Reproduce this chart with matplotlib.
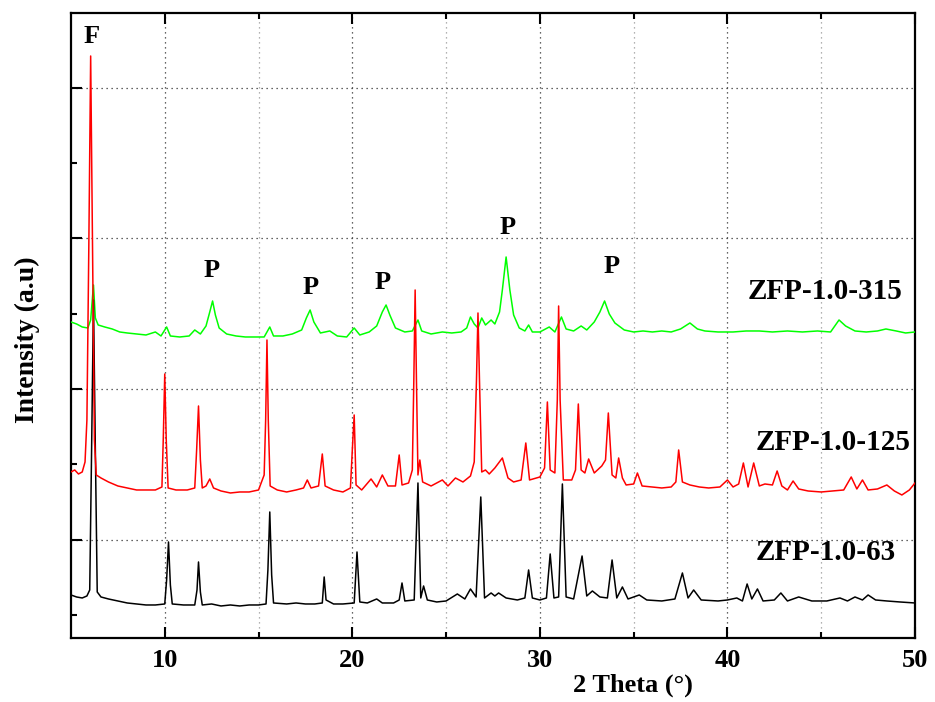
import matplotlib
matplotlib.use("Agg")
import matplotlib.pyplot as plt
from matplotlib.ticker import FixedLocator, NullFormatter

plt.rcParams['font.family'] = ['Liberation Serif', 'DejaVu Serif']
plt.rcParams['font.weight'] = 'bold'

# ZFP-1.0-63 (black)
theta_63 = [5.0, 5.3, 5.6, 5.85, 6.0, 6.1, 6.2, 6.3, 6.4, 6.6, 7.0, 7.5, 8.0, 8.5, 9.0, 9.5,
            10.0, 10.1, 10.2, 10.3, 10.4, 11.0, 11.6, 11.72, 11.8, 11.9, 12.0, 12.5, 13.0, 13.5,
            14.0, 14.5, 15.0, 15.4, 15.5, 15.6, 15.7, 15.8, 16.5, 17.0, 17.5, 18.0, 18.4, 18.5,
            18.6, 19.0, 19.5, 20.1, 20.25, 20.4, 20.8, 21.3, 21.6, 22.2, 22.5, 22.65, 22.8, 23.3,
            23.5, 23.65, 23.8, 24.0, 24.5, 25.0, 25.6, 26.0, 26.3, 26.6, 26.85, 27.05, 27.4, 27.6,
            27.8, 28.2, 28.8, 29.2, 29.4, 29.6, 30.0, 30.35, 30.55, 30.75, 31.0, 31.2, 31.4, 31.8,
            32.25, 32.5, 32.8, 33.2, 33.6, 33.85, 34.1, 34.4, 34.7, 35.3, 35.7, 36.5, 37.2, 37.6,
            37.9, 38.2, 38.6, 39.5, 40.0, 40.5, 40.8, 41.05, 41.3, 41.6, 41.9, 42.5, 42.85, 43.2,
            43.8, 44.5, 45.3, 46.0, 46.4, 46.8, 47.2, 47.5, 47.9, 48.5, 49.2, 50.0]
int_63 = [43, 41, 40, 42, 48, 188, 338, 188, 46, 41, 39, 37, 35, 34, 33, 33,
          34, 58, 96, 53, 34, 33, 33, 48, 76, 46, 33, 34, 32, 33,
          32, 33, 33, 34, 68, 126, 63, 35, 34, 35, 34, 34, 35, 61,
          38, 34, 34, 35, 86, 36, 35, 39, 35, 35, 38, 55, 37, 38,
          155, 40, 52, 38, 36, 37, 44, 39, 49, 41, 141, 40, 45, 42,
          45, 40, 38, 40, 68, 40, 38, 40, 84, 40, 41, 154, 41, 39,
          82, 42, 47, 41, 40, 78, 40, 51, 39, 43, 38, 37, 39, 65,
          40, 48, 38, 37, 38, 40, 37, 54, 39, 49, 37, 38, 45, 37,
          41, 37, 37, 40, 37, 41, 38, 43, 38, 37, 36, 35]

# ZFP-1.0-125 (red)
theta_125 = [5.0, 5.2, 5.4, 5.6, 5.75, 5.85, 5.95, 6.05, 6.15, 6.25, 6.35, 6.6, 7.0, 7.5, 8.0, 8.5,
             9.0, 9.5, 9.85, 9.92, 10.0, 10.08, 10.18, 10.6, 11.2, 11.6, 11.7, 11.8, 11.9, 12.0,
             12.2, 12.4, 12.6, 13.0, 13.5, 14.0, 14.5, 15.0, 15.3, 15.38, 15.45, 15.52, 15.62, 16.0,
             16.5, 17.0, 17.4, 17.6, 17.8, 18.2, 18.4, 18.55, 19.0, 19.5, 19.9, 20.0, 20.1, 20.2,
             20.5, 21.0, 21.3, 21.6, 21.9, 22.3, 22.5, 22.65, 23.0, 23.2, 23.28, 23.35, 23.42, 23.5,
             23.6, 23.75, 24.2, 24.8, 25.1, 25.5, 25.9, 26.3, 26.5, 26.62, 26.7, 26.78, 26.9, 27.1,
             27.3, 27.6, 28.0, 28.3, 28.6, 29.0, 29.25, 29.45, 30.0, 30.25, 30.4, 30.55, 30.8, 30.93,
             31.0, 31.08, 31.25, 31.7, 31.9, 32.05, 32.2, 32.4, 32.6, 32.9, 33.3, 33.5, 33.65, 33.85,
             34.05, 34.2, 34.4, 34.6, 35.0, 35.2, 35.45, 36.0, 36.5, 37.0, 37.25, 37.4, 37.6, 38.0,
             38.5, 39.0, 39.6, 40.0, 40.3, 40.6, 40.85, 41.1, 41.4, 41.7, 42.0, 42.4, 42.65, 42.9,
             43.2, 43.5, 43.8, 44.3, 45.0, 45.6, 46.2, 46.6, 46.9, 47.2, 47.5, 48.0, 48.5, 48.9,
             49.3, 49.7, 50.0]
int_125 = [166, 168, 164, 166, 176, 218, 388, 582, 388, 198, 163, 160, 156, 152, 150, 148,
           148, 148, 151, 198, 264, 198, 150, 148, 148, 150, 188, 232, 178, 150,
           152, 159, 150, 147, 145, 146, 146, 148, 163, 218, 298, 218, 152, 148,
           146, 148, 150, 158, 150, 152, 184, 152, 148, 146, 150, 188, 223, 153,
           148, 159, 151, 163, 152, 152, 183, 153, 155, 168, 258, 348, 258, 163,
           178, 156, 152, 158, 152, 160, 156, 162, 176, 258, 325, 258, 166, 168,
           164, 170, 180, 160, 156, 158, 195, 158, 161, 170, 236, 168, 165, 238,
           332, 238, 158, 158, 168, 234, 168, 165, 179, 165, 172, 178, 225, 163,
           160, 180, 160, 153, 154, 165, 152, 151, 150, 151, 156, 188, 156, 153,
           151, 150, 151, 158, 151, 154, 175, 151, 175, 152, 154, 153, 167, 152,
           148, 157, 149, 147, 146, 147, 148, 161, 149, 158, 148, 149, 153, 147,
           143, 148, 155]

# ZFP-1.0-315 (green)
theta_315 = [5.0, 5.3, 5.6, 5.9, 6.05, 6.2, 6.3, 6.45, 6.8, 7.2, 7.6, 8.0, 8.5, 9.0, 9.5, 9.8,
             10.1, 10.3, 10.8, 11.3, 11.6, 11.9, 12.2, 12.4, 12.55, 12.7, 12.9, 13.3, 13.8, 14.3,
             14.8, 15.3, 15.6, 15.8, 16.3, 16.8, 17.3, 17.55, 17.75, 17.95, 18.3, 18.8, 19.2, 19.7,
             20.1, 20.4, 20.9, 21.3, 21.6, 21.8, 22.0, 22.3, 22.8, 23.2, 23.5, 23.7, 24.2, 24.8,
             25.3, 25.8, 26.1, 26.3, 26.5, 26.7, 26.9, 27.1, 27.4, 27.6, 27.85, 28.0, 28.2, 28.4,
             28.6, 28.9, 29.2, 29.4, 29.6, 30.0, 30.5, 30.8, 31.15, 31.4, 31.8, 32.2, 32.5, 32.9,
             33.2, 33.45, 33.7, 34.0, 34.5, 35.0, 35.5, 36.0, 36.5, 37.0, 37.5, 38.0, 38.4, 38.8,
             39.5, 40.3, 41.0, 41.7, 42.4, 43.2, 44.0, 44.8, 45.5, 45.95, 46.3, 46.8, 47.4, 48.0,
             48.45, 49.0, 49.5, 50.0]
int_315 = [316, 314, 311, 310, 318, 353, 320, 313, 311, 309, 306, 305, 304, 303, 306, 302,
           311, 302, 301, 302, 308, 304, 312, 326, 337, 323, 310, 304, 302, 301,
           301, 301, 311, 302, 302, 304, 308, 320, 328, 316, 305, 307, 302, 301,
           310, 303, 306, 312, 326, 333, 323, 310, 306, 307, 318, 307, 304, 306,
           305, 306, 310, 321, 314, 310, 320, 313, 318, 314, 326, 348, 381, 348,
           323, 310, 307, 313, 306, 306, 311, 306, 321, 309, 307, 312, 308, 316,
           326, 337, 324, 315, 308, 306, 307, 306, 307, 306, 309, 315, 309, 307,
           306, 306, 307, 307, 306, 307, 306, 307, 306, 318, 312, 307, 306, 307,
           309, 307, 305, 306]

sample_names = ['ZFP-1.0-63', 'ZFP-1.0-125', 'ZFP-1.0-315']
p_theta = [12.5, 17.8, 21.6, 28.3, 33.8]
p_height = [367, 350, 355, 410, 371]

fig = plt.figure(figsize=(9.35, 7.02), dpi=100)
ax = fig.add_axes([0.0759, 0.0912, 0.9027, 0.8903])

ax.plot(theta_315, int_315, color='#00ff00', lw=1.1, zorder=3)
ax.plot(theta_63, int_63, color='black', lw=1.1, zorder=4)
ax.plot(theta_125, int_125, color='red', lw=1.1, zorder=5)

ax.set_xlim(5, 50)
ax.set_ylim(0, 625)

ax.xaxis.set_major_locator(FixedLocator([10, 20, 30, 40, 50]))
ax.xaxis.set_minor_locator(FixedLocator([15, 25, 35, 45]))
ax.yaxis.set_major_locator(FixedLocator([98, 249, 400, 550]))
ax.yaxis.set_minor_locator(FixedLocator([23, 174, 324, 475]))
ax.yaxis.set_major_formatter(NullFormatter())

ax.tick_params(which='both', direction='in', top=True, right=False, width=1.5)
ax.tick_params(which='major', length=8, labelsize=19, pad=8)
ax.tick_params(which='minor', length=4)
for lab in ax.get_xticklabels():
    lab.set_fontweight('bold')

ax.grid(which='major', axis='both', linestyle=(0, (1, 3)), color='#333333', lw=0.9)
ax.grid(which='minor', axis='x', linestyle=(0, (1, 3)), color='#999999', lw=0.9)
ax.set_axisbelow(True)

for sp in ax.spines.values():
    sp.set_linewidth(1.6)

ax.text(6.1, 601, 'F', fontsize=19, fontweight='bold', ha='center', va='center')
for t, h in zip(p_theta, p_height):
    ax.text(t, h, 'P', fontsize=19, fontweight='bold', ha='center', va='center')

ax.text(45.25, 85, sample_names[0], fontsize=21, fontweight='bold', ha='center', va='center')
ax.text(45.63, 195, sample_names[1], fontsize=21, fontweight='bold', ha='center', va='center')
ax.text(45.2, 346, sample_names[2], fontsize=21, fontweight='bold', ha='center', va='center')

fig.text(633 / 935, 1 - 685 / 702, '2 Theta (°)', fontsize=19, fontweight='bold',
         ha='center', va='center')
fig.text(27 / 935, 1 - 340 / 702, 'Intensity (a.u)', fontsize=20, fontweight='bold',
         ha='center', va='center', rotation=90)

fig.savefig('out.png', dpi=100)
